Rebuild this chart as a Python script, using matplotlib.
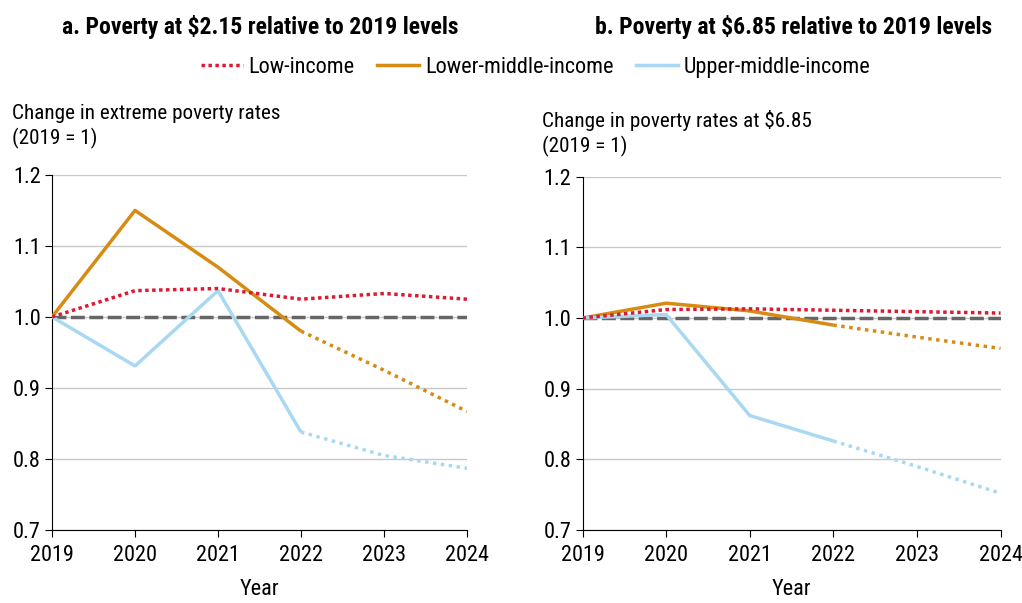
import matplotlib.pyplot as plt
from matplotlib.lines import Line2D

plt.rcParams['font.family'] = ['Roboto Condensed', 'Liberation Sans Narrow', 'Liberation Sans', 'DejaVu Sans']

years = [2019, 2020, 2021, 2022, 2023, 2024]

# panel a: $2.15
low_a = [1.0, 1.037, 1.040, 1.025, 1.033, 1.025]
lmi_a = [1.0, 1.150, 1.070, 0.980, 0.925, 0.867]
umi_a = [1.0, 0.931, 1.037, 0.838, 0.805, 0.787]

# panel b: $6.85
low_b = [1.0, 1.012, 1.013, 1.011, 1.009, 1.007]
lmi_b = [1.0, 1.021, 1.010, 0.990, 0.973, 0.957]
umi_b = [1.0, 1.005, 0.862, 0.826, 0.790, 0.752]

titles = ["a. Poverty at $2.15 relative to 2019 levels",
          "b. Poverty at $6.85 relative to 2019 levels"]
ylabels = ["Change in extreme poverty rates\n(2019 = 1)",
           "Change in poverty rates at $6.85\n(2019 = 1)"]

red = '#DC1A32'
orange = '#D68C12'
blue = '#A9D8F2'
lw = 2.5

fig = plt.figure(figsize=(10.22, 6.03), dpi=100)
ax1 = fig.add_axes([0.0509, 0.121, 0.406, 0.589])
ax2 = fig.add_axes([0.570, 0.121, 0.409, 0.586])

n_obs = 4  # 2019-2022 observed, rest projected

for ax, low, lmi, umi in [(ax1, low_a, lmi_a, umi_a), (ax2, low_b, lmi_b, umi_b)]:
    ax.plot(years, [1.0] * len(years), color='#666666', lw=lw, linestyle=(0, (4, 1.3)), zorder=2)
    ax.plot(years, low, color=red, lw=lw, linestyle=(0, (1, 1)), zorder=4)
    ax.plot(years[:n_obs], lmi[:n_obs], color=orange, lw=lw, zorder=3, solid_capstyle='butt')
    ax.plot(years[n_obs - 1:], lmi[n_obs - 1:], color=orange, lw=lw, linestyle=(0, (1, 1.3)), zorder=3)
    ax.plot(years[:n_obs], umi[:n_obs], color=blue, lw=lw, zorder=3, solid_capstyle='butt')
    ax.plot(years[n_obs - 1:], umi[n_obs - 1:], color=blue, lw=lw, linestyle=(0, (1, 1.3)), zorder=3)

    ax.set_xlim(2019, 2024)
    ax.set_ylim(0.7, 1.2)
    ax.set_yticks([0.7, 0.8, 0.9, 1.0, 1.1, 1.2])
    ax.set_yticklabels(['0.7', '0.8', '0.9', '1.0', '1.1', '1.2'])
    ax.set_xticks(years)
    ax.grid(axis='y', color='#c8c8c8', lw=1)
    ax.set_axisbelow(True)
    for s in ['top', 'right']:
        ax.spines[s].set_visible(False)
    ax.tick_params(labelsize=16, length=5, direction='out', pad=3)
    ax.tick_params(axis='x', pad=6)
    ax.set_xlabel("Year", fontsize=16, labelpad=9)

fig.text(0.255, 0.955, titles[0], ha='center', va='center', fontsize=17, fontweight='bold')
fig.text(0.776, 0.955, titles[1], ha='center', va='center', fontsize=17, fontweight='bold')
fig.text(0.012, 0.790, ylabels[0], ha='left', va='center', fontsize=15.2, linespacing=1.3)
fig.text(0.530, 0.778, ylabels[1], ha='left', va='center', fontsize=15.2, linespacing=1.3)

handles = [Line2D([], [], color=red, lw=lw, linestyle=(0, (1, 1))),
           Line2D([], [], color=orange, lw=lw),
           Line2D([], [], color=blue, lw=lw)]
fig.legend(handles, ["Low-income", "Lower-middle-income", "Upper-middle-income"],
           loc='center', bbox_to_anchor=(0.524, 0.888), ncol=3, frameon=False,
           fontsize=16, handlelength=1.9, handletextpad=0.25, columnspacing=1.0)

fig.savefig("out.png", dpi=100)
